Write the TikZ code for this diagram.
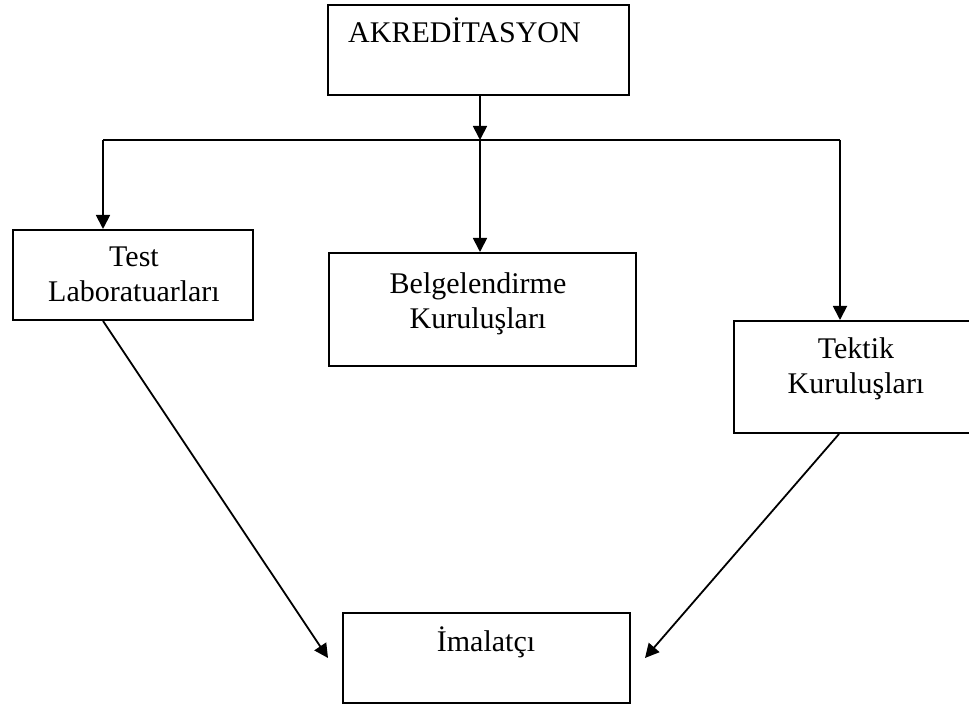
\documentclass[tikz,border=0pt]{standalone}
\usepackage{fontspec}
\setmainfont{Liberation Serif}
\usetikzlibrary{arrows.meta}
\begin{document}
\begin{tikzpicture}[x=1pt,y=1pt,
  box/.style={draw, line width=2pt, rectangle, inner sep=0pt},
  lbl/.style={inner sep=0pt, align=center, font=\fontsize{30}{35}\selectfont},
  conn/.style={line width=1.8pt},
  arr/.style={line width=1.8pt, -{Triangle[length=14pt,width=14pt]}}]
\clip (0,0) rectangle (969,704);
% boxes (image y -> 704 - y)
\node[box, minimum width=301pt, minimum height=90pt] (akr) at (478.5,654) {};
\node[box, minimum width=240pt, minimum height=90pt] (test) at (133,429) {};
\node[box, minimum width=307pt, minimum height=113pt] (belg) at (482.5,394.5) {};
\node[box, minimum width=242pt, minimum height=112pt] (tek) at (855,327) {};
\node[box, minimum width=287pt, minimum height=90pt] (imal) at (486.5,46) {};
% texts
\node[lbl, anchor=base west] (takr) at (348,661) {AKREDİTASYON};
\node[lbl, anchor=north] (ttest) at (134,457) {Test\\Laboratuarları};
\node[lbl, anchor=north] (tbelg) at (478,432) {Belgelendirme\\Kuruluşları};
\node[lbl, anchor=north] (ttek) at (856,367) {Tektik\\Kuruluşları};
\node[lbl, anchor=base] (timal) at (486,52) {İmalatçı};
% junctions
\coordinate (j) at (480,564);
\coordinate (jl) at (103,564);
\coordinate (jr) at (840,564);
\coordinate (el) at (328,46);
\coordinate (er) at (645,46);
% connectors
\draw[arr] (akr.south -| j) -- (j);
\draw[conn] (jl) -- (jr);
\draw[arr] (jl) -- (jl |- test.north);
\draw[arr] (j) -- (j |- belg.north);
\draw[arr] (jr) -- (jr |- tek.north);
\draw[arr] (test.south -| jl) -- (el);
\draw[arr] ([xshift=-16pt]tek.south) -- (er);
\end{tikzpicture}
\end{document}
